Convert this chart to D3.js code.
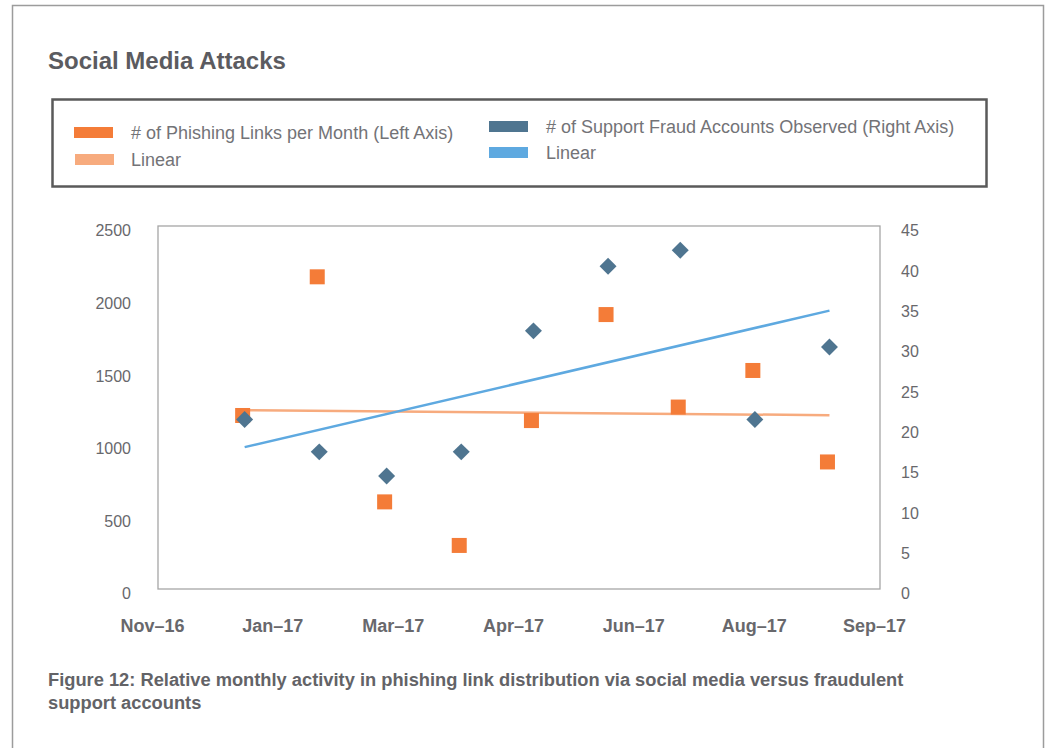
<!DOCTYPE html>
<html>
<head>
<meta charset="utf-8">
<script src="https://cdn.jsdelivr.net/npm/d3@7"></script>
<style>
  body { margin: 0; background: #fff; }
  svg { display: block; font-family: "Liberation Sans", Arial, sans-serif; }
</style>
</head>
<body>
<svg width="1049" height="748"></svg>
<script>
// month-end dates of each observation
const months = ['2016-12-31', '2017-01-31', '2017-02-28', '2017-03-31', '2017-04-30',
                '2017-05-31', '2017-06-30', '2017-07-31', '2017-08-31']
const phishingLinks = [1195, 2150, 600, 300, 1160, 1890, 1253, 1505, 875]
const fraudAccounts = [21, 17, 14, 17, 32, 40, 42, 21, 30]
const leftTicks = [0, 500, 1000, 1500, 2000, 2500]
const rightTicks = [0, 5, 10, 15, 20, 25, 30, 35, 40, 45]
const xDomain = ['2016-11-25', '2017-09-21']
const xTickStepDays = 50

const orange = '#f47c38'
const orangeLight = '#f7ab7e'
const slate = '#4f7590'
const blue = '#5ea9e0'
const textGray = '#68686c'

const parse = d3.utcParse('%Y-%m-%d')
const dates = months.map(parse)

const svg = d3.select('svg')
const plot = { left: 158, right: 880, top: 226, bottom: 589 }

const x = d3.scaleUtc()
            .domain(xDomain.map(parse))
            .range([plot.left, plot.right])

const yLeft = d3.scaleLinear()
                .domain([0, 2500])
                .range([plot.bottom, plot.top])

const yRight = d3.scaleLinear()
                 .domain([0, 45])
                 .range([plot.bottom, plot.top])

// outer page frame
svg.append('path')
   .attr('d', 'M12.5,760 V5.5 H1043.5 V760')
   .attr('fill', 'none')
   .attr('stroke', '#9c9c9c')
   .attr('stroke-width', 1.5)

svg.append('text')
   .attr('x', 48)
   .attr('y', 69)
   .attr('font-size', 24)
   .attr('font-weight', 'bold')
   .attr('fill', '#5b5b60')
   .text('Social Media Attacks')

// legend
svg.append('rect')
   .attr('x', 52.5)
   .attr('y', 99.5)
   .attr('width', 934)
   .attr('height', 87)
   .attr('fill', 'none')
   .attr('stroke', '#5a5a5a')
   .attr('stroke-width', 2.5)

const legendItems = [
  { color: orange, label: '# of Phishing Links per Month (Left Axis)', sx: 74, sy: 127, tx: 131, ty: 139 },
  { color: orangeLight, label: 'Linear', sx: 75, sy: 154, tx: 131, ty: 166 },
  { color: slate, label: '# of Support Fraud Accounts Observed (Right Axis)', sx: 489, sy: 121, tx: 546, ty: 133 },
  { color: blue, label: 'Linear', sx: 489, sy: 147, tx: 546, ty: 159 }
]

const legend = svg.selectAll('.legend')
                  .data(legendItems)
                  .enter().append('g')
                  .attr('class', 'legend')

legend.append('rect')
      .attr('x', d => d.sx)
      .attr('y', d => d.sy)
      .attr('width', 39)
      .attr('height', 11)
      .attr('fill', d => d.color)

legend.append('text')
      .attr('x', d => d.tx)
      .attr('y', d => d.ty)
      .attr('font-size', 18)
      .attr('fill', '#737377')
      .text(d => d.label)

// plot frame
svg.append('rect')
   .attr('x', plot.left)
   .attr('y', plot.top)
   .attr('width', plot.right - plot.left)
   .attr('height', plot.bottom - plot.top)
   .attr('fill', 'none')
   .attr('stroke', '#a6a6a6')
   .attr('stroke-width', 1.3)

// axes
const leftAxis = svg.append('g')
                    .attr('transform', `translate(${plot.left},0)`)
                    .call(d3.axisLeft(yLeft).tickValues(leftTicks).tickSize(0).tickPadding(27)
                            .tickFormat(d3.format('d')))
const rightAxis = svg.append('g')
                     .attr('transform', `translate(${plot.right},0)`)
                     .call(d3.axisRight(yRight).tickValues(rightTicks).tickSize(0).tickPadding(21))

const xTicks = d3.range(7).map(i => d3.utcDay.offset(parse(xDomain[0]), i * xTickStepDays))
const bottomAxis = svg.append('g')
                      .attr('transform', `translate(0,${plot.bottom})`)
                      .call(d3.axisBottom(x).tickValues(xTicks).tickSize(0).tickPadding(30)
                              .tickFormat(d3.utcFormat('%b–%y')))

;[leftAxis, rightAxis, bottomAxis].forEach(g => {
  g.select('.domain').remove()
  g.selectAll('text')
   .attr('font-family', '"Liberation Sans", Arial, sans-serif')
   .attr('fill', textGray)
})
leftAxis.selectAll('text').attr('font-size', 16).attr('dy', '0.62em')
rightAxis.selectAll('text').attr('font-size', 16).attr('dy', '0.62em')
bottomAxis.selectAll('text')
          .attr('font-size', 18)
          .attr('font-weight', 'bold')
          .attr('dx', -6)

// least-squares trend over the dates
function trend(ys) {
  const xs = dates.map(d => +d)
  const mx = d3.mean(xs)
  const my = d3.mean(ys)
  const slope = d3.sum(xs, (v, i) => (v - mx) * (ys[i] - my)) / d3.sum(xs, v => (v - mx) ** 2)
  return [dates[0], dates[dates.length - 1]].map(d => [d, my + slope * (+d - mx)])
}

svg.append('path')
   .datum(trend(phishingLinks))
   .attr('fill', 'none')
   .attr('stroke', orangeLight)
   .attr('stroke-width', 2.5)
   .attr('d', d3.line().x(d => x(d[0])).y(d => yLeft(d[1])))

svg.append('path')
   .datum(trend(fraudAccounts))
   .attr('fill', 'none')
   .attr('stroke', blue)
   .attr('stroke-width', 2.5)
   .attr('d', d3.line().x(d => x(d[0])).y(d => yRight(d[1])))

svg.selectAll('.phish')
   .data(phishingLinks)
   .enter().append('rect')
   .attr('class', 'phish')
   .attr('x', (d, i) => x(dates[i]) - 2 - 7.5)
   .attr('y', d => yLeft(d) - 7.5)
   .attr('width', 15)
   .attr('height', 15)
   .attr('fill', orange)

svg.selectAll('.fraud')
   .data(fraudAccounts)
   .enter().append('path')
   .attr('class', 'fraud')
   .attr('d', d3.symbol(d3.symbolSquare, 144))
   .attr('transform', (d, i) => `translate(${x(dates[i])},${yRight(d)}) rotate(45)`)
   .attr('fill', slate)

// caption
const caption = svg.append('text')
                   .attr('x', 48)
                   .attr('y', 686)
                   .attr('font-size', 18.3)
                   .attr('font-weight', 'bold')
                   .attr('fill', '#636367')
caption.append('tspan')
       .text('Figure 12: Relative monthly activity in phishing link distribution via social media versus fraudulent')
caption.append('tspan')
       .attr('x', 48)
       .attr('dy', 23)
       .text('support accounts')
</script>
</body>
</html>
